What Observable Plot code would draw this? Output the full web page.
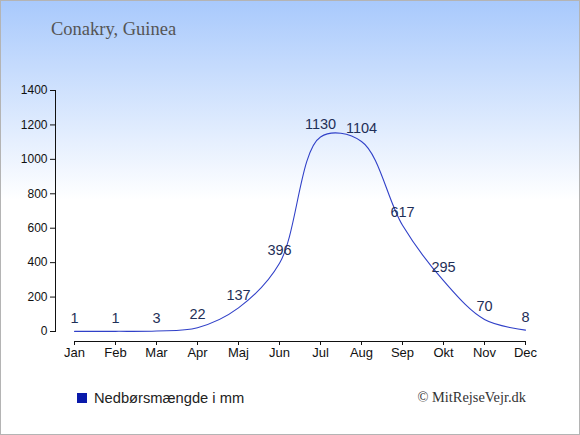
<!DOCTYPE html>
<html><head><meta charset="utf-8">
<script src="https://cdn.jsdelivr.net/npm/d3@7"></script>
<script src="https://cdn.jsdelivr.net/npm/@observablehq/plot@0.6"></script>
<style>
html,body{margin:0;padding:0;background:#fff;}
#wrap{position:relative;width:580px;height:435px;background:linear-gradient(to bottom,#a8c9fc 0px,#ffffff 200px);overflow:hidden;font-family:"Liberation Sans",Arial,sans-serif;}
#border{position:absolute;left:0;top:0;width:580px;height:435px;box-sizing:border-box;border:1px solid #b4b4b4;pointer-events:none;}
#title{position:absolute;left:51px;top:19px;font-family:"Liberation Serif","Times New Roman",serif;font-size:18.5px;color:#555;}
#chart{position:absolute;left:0;top:0;}
#legend{position:absolute;left:77px;top:390px;font-size:14.7px;color:#222;display:flex;align-items:center;}
#legend .sw{width:10px;height:10px;background:#0a1aaa;margin-right:7px;}
#credit{position:absolute;right:54px;top:389px;font-family:"Liberation Serif","Times New Roman",serif;font-size:14.4px;color:#333;}
</style></head>
<body>
<div id="wrap">
  <div id="title">Conakry, Guinea</div>
  <div id="chart"></div>
  <div id="legend"><div class="sw"></div><span>Nedbørsmængde i mm</span></div>
  <div id="credit">© MitRejseVejr.dk</div>
  <div id="border"></div>
</div>
<script>
const months = ["Jan","Feb","Mar","Apr","Maj","Jun","Jul","Aug","Sep","Okt","Nov","Dec"];
const rain = [1,1,3,22,137,396,1130,1104,617,295,70,8];
const yTicks = [0,200,400,600,800,1000,1200,1400];

const data = months.map((m,i)=>({month:m, value:rain[i]}));

const chart = Plot.plot({
  width: 580,
  height: 370,
  marginTop: 90,
  marginBottom: 39,
  marginLeft: 55,
  marginRight: 55,
  style: {background:"transparent", fontFamily:"'Liberation Sans', Arial, sans-serif", fontSize:"12px", color:"#111"},
  x: {type:"point", domain: months, range:[74,525], padding:0},
  y: {domain:[0,1400]},
  marks: [
    Plot.frame({anchor:"left", stroke:"#111"}),
    Plot.axisY({ticks: yTicks, tickSize:5, tickPadding:3, tickFormat: d3.format("d"), label:null, fontSize:12}),
    Plot.ruleY([0], {x1: () => months[0], x2: () => months[months.length-1], dy: 10, stroke:"#111"}),
    Plot.axisX({tickSize:4, tickPadding:2, dy:10, label:null, fontSize:13}),
    Plot.line(data, {x:"month", y:"value", curve:"catmull-rom", stroke:"#3040c8", strokeWidth:1.1}),
    Plot.text(data, {x:"month", y:"value", text: d => String(d.value), dy:-13, fill:"#1f2f58", fontSize:14.5})
  ]
});
document.getElementById("chart").appendChild(chart);
</script>
</body></html>
